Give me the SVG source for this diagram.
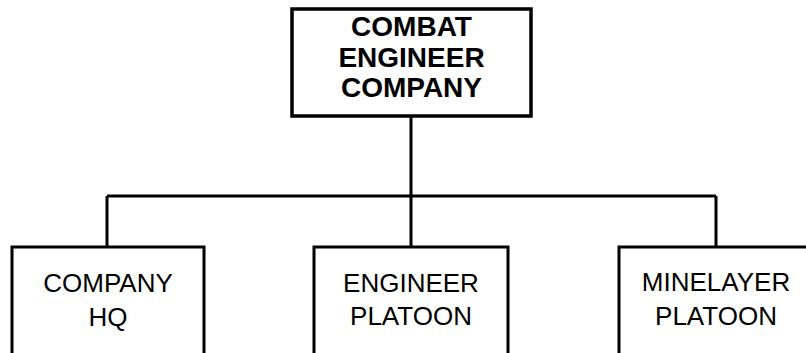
<svg xmlns="http://www.w3.org/2000/svg" width="806" height="353" viewBox="0 0 806 353">
<style>
.box{fill:#fff;stroke:#000;stroke-width:3}
.top{stroke-width:3.5}
.t{font-family:"Liberation Sans",Arial,sans-serif;fill:#000;text-anchor:middle}
.b{font-weight:bold;font-size:28px}
.r{font-size:26px}
.c{fill:none;stroke:#000;stroke-width:3}
</style>
<rect width="806" height="353" fill="#fff"/>
<g id="connectors">
<path class="c" d="M411 116V196M107 196H716M107 196V247M411 196V247M716 196V247"/>
</g>
<g id="combat-engineer-company">
<rect class="box top" x="292" y="9" width="239" height="107"/>
<text class="t b" x="411.5" y="36">COMBAT</text>
<text class="t b" x="411.5" y="67">ENGINEER</text>
<text class="t b" x="411.5" y="97">COMPANY</text>
</g>
<g id="company-hq">
<rect class="box" x="12" y="247" width="192" height="120"/>
<text class="t r" x="108" y="292">COMPANY</text>
<text class="t r" x="108" y="326">HQ</text>
</g>
<g id="engineer-platoon">
<rect class="box" x="314" y="247" width="194" height="120"/>
<text class="t r" x="411" y="292">ENGINEER</text>
<text class="t r" x="411" y="325">PLATOON</text>
</g>
<g id="minelayer-platoon">
<rect class="box" x="619" y="247" width="194" height="120"/>
<text class="t r" x="716" y="291">MINELAYER</text>
<text class="t r" x="716" y="325">PLATOON</text>
</g>
</svg>
